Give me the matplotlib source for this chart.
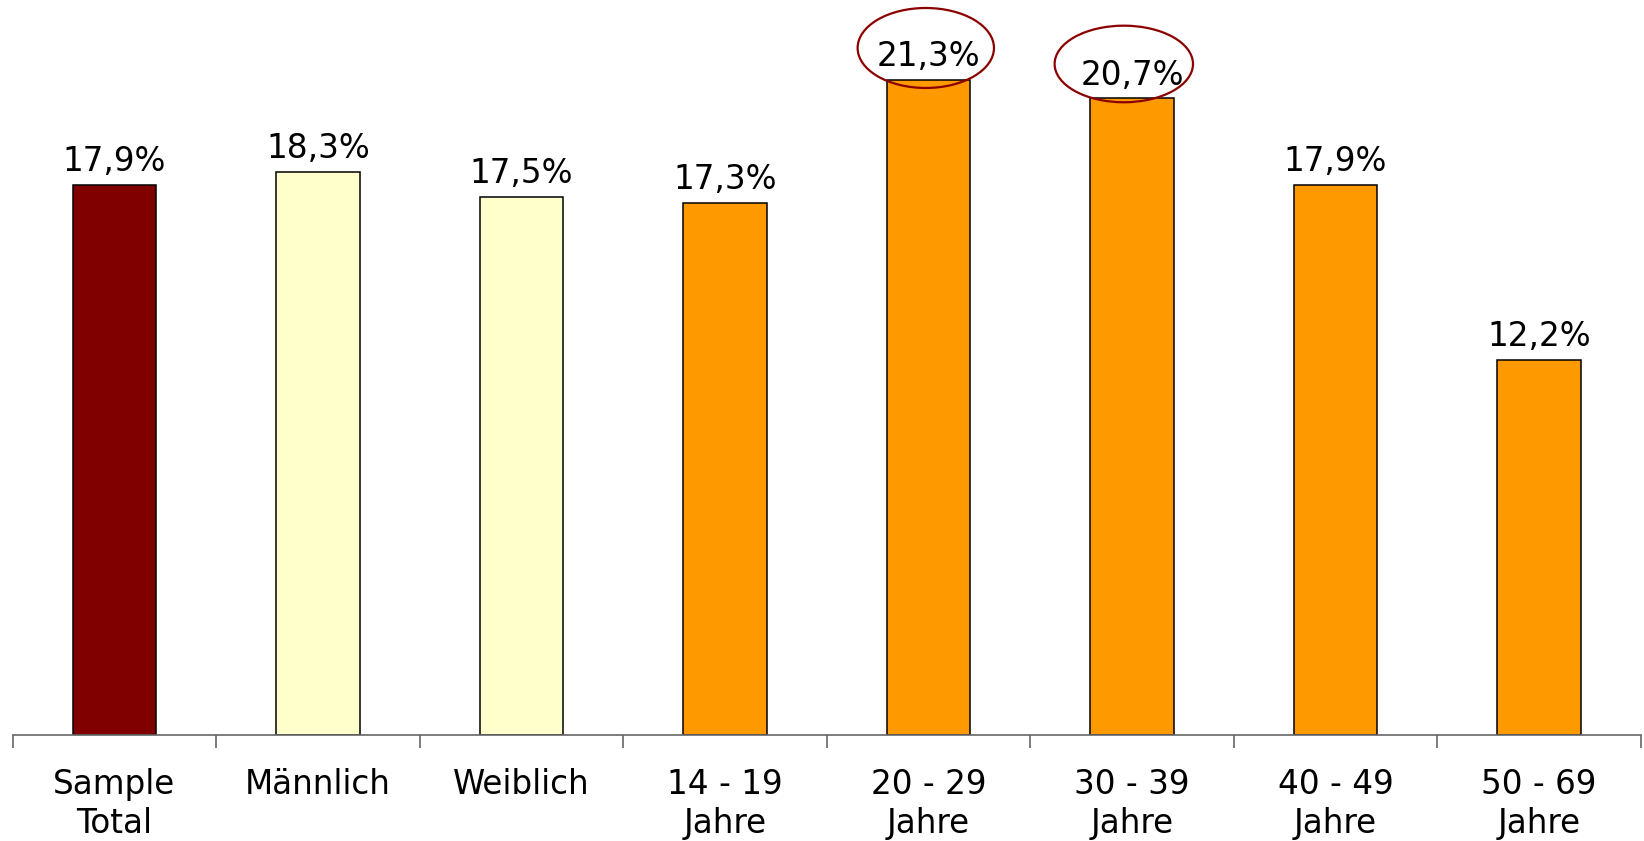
import matplotlib
matplotlib.use("Agg")
import matplotlib.pyplot as plt
from matplotlib.patches import Ellipse
import numpy as np

categories = ["Sample\nTotal", "Männlich", "Weiblich", "14 - 19\nJahre",
              "20 - 29\nJahre", "30 - 39\nJahre", "40 - 49\nJahre", "50 - 69\nJahre"]
values = [17.9, 18.3, 17.5, 17.3, 21.3, 20.7, 17.9, 12.2]
labels = ["17,9%", "18,3%", "17,5%", "17,3%", "21,3%", "20,7%", "17,9%", "12,2%"]
colors = ["#800000", "#FFFFCC", "#FFFFCC", "#FF9900", "#FF9900", "#FF9900", "#FF9900", "#FF9900"]
highlighted = [4, 5]

plt.rcParams['font.family'] = ['DejaVu Sans']

fig = plt.figure(figsize=(16.44, 8.41), dpi=100)
ax = fig.add_axes([0.0077, 0.126, 0.9903, 0.874])

x = np.arange(len(values))
ax.bar(x, values, width=0.41, color=colors, edgecolor="black", linewidth=1.1, zorder=2)

for xi, v, lab in zip(x, values, labels):
    ax.annotate(lab, (xi, v), xytext=(0, 10), textcoords="offset points",
                ha="center", va="baseline", fontsize=23.5, color="black")

ell_offsets = {4: (-0.013, 1.04, 0.67, 2.6), 5: (-0.04, 1.12, 0.68, 2.49)}
for i in highlighted:
    dx, dy, w, h = ell_offsets[i]
    ax.add_patch(Ellipse((x[i] + dx, values[i] + dy), w, h, fill=False,
                         edgecolor="#8B0000", linewidth=1.6, zorder=3, clip_on=False))

ax.set_xlim(-0.5, len(values) - 0.5)
ax.set_ylim(0, 23.9)
for s in ["top", "right", "left"]:
    ax.spines[s].set_visible(False)
ax.spines["bottom"].set_color("#666666")
ax.spines["bottom"].set_linewidth(1.2)
ax.set_yticks([])
ax.set_xticks(x)
ax.set_xticklabels(categories, fontsize=23.5, linespacing=1.2, va="top")
ax.tick_params(axis="x", which="major", length=0, pad=24)
ax.set_xticks(np.arange(-0.5, len(values), 1.0), minor=True)
ax.tick_params(axis="x", which="minor", length=9, width=1.2, color="#666666")

fig.savefig("out.png", dpi=100, facecolor="white")
